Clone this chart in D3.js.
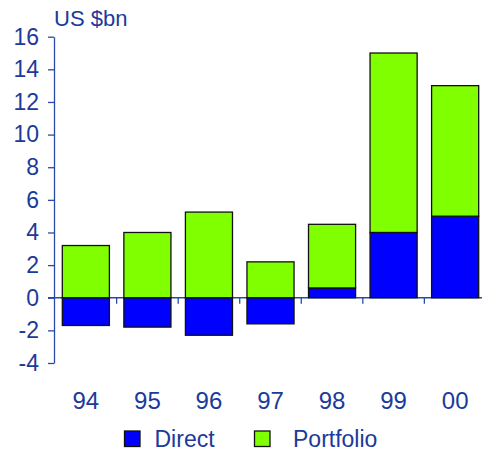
<!DOCTYPE html>
<html>
<head>
<meta charset="utf-8">
<script src="https://cdn.jsdelivr.net/npm/d3@7"></script>
<style>
	body { margin: 0; background: #fff; }
	svg { display: block; font-family: "Liberation Sans", Arial, sans-serif; }
</style>
</head>
<body>
<div id="chart"></div>
<script>
	'use strict';

	// data
	var years = ["94", "95", "96", "97", "98", "99", "00"];
	var direct = [-1.7, -1.8, -2.3, -1.6, 0.6, 4.0, 5.0];
	var portfolio = [3.2, 4.0, 5.25, 2.2, 3.9, 11.0, 8.0];
	var yTicks = [-4, -2, 0, 2, 4, 6, 8, 10, 12, 14, 16];
	var seriesNames = ["Direct", "Portfolio"];

	var options = {
		width: 482,
		height: 450,
		textColor: "#1b3a9a",
		axisColor: "#2a4aa6",
		colors: ["#0000ff", "#80ff00"]
	};

	var rows = years.map(function (y, i) {
		return { year: y, Direct: direct[i], Portfolio: portfolio[i] };
	});

	var svg = d3.select("#chart").append("svg")
		.attr("width", options.width)
		.attr("height", options.height);

	var x = d3.scaleBand()
		.domain(years)
		.range([54, 487])
		.paddingInner(0.235)
		.paddingOuter(0.135);

	var y = d3.scaleLinear()
		.domain([-4, 16])
		.range([363, 36.7]);

	var color = d3.scaleOrdinal()
		.domain(seriesNames)
		.range(options.colors);

	// zero line with small separators between categories
	svg.append("line")
		.attr("x1", 48).attr("x2", options.width)
		.attr("y1", y(0)).attr("y2", y(0))
		.attr("stroke", options.axisColor)
		.attr("stroke-width", 1.3);

	svg.selectAll("line.sep")
		.data(years.slice(1))
		.enter()
		.append("line")
		.attr("class", "sep")
		.attr("x1", function (d) { return x(d) - x.step() * x.paddingInner() / 2; })
		.attr("x2", function (d) { return x(d) - x.step() * x.paddingInner() / 2; })
		.attr("y1", y(0))
		.attr("y2", y(0) + 6)
		.attr("stroke", options.axisColor)
		.attr("stroke-width", 1.3);

	// stacked bars
	var stacked = d3.stack()
		.keys(seriesNames)
		.offset(d3.stackOffsetDiverging)(rows);

	svg.selectAll("g.series")
		.data(stacked)
		.enter()
		.append("g")
		.attr("class", "series")
		.attr("fill", function (d) { return color(d.key); })
		.selectAll("rect")
		.data(function (d) { return d; })
		.enter()
		.append("rect")
		.attr("x", function (d) { return x(d.data.year); })
		.attr("width", x.bandwidth())
		.attr("y", function (d) { return y(Math.max(d[0], d[1])); })
		.attr("height", function (d) { return Math.abs(y(d[0]) - y(d[1])); })
		.attr("stroke", "#111")
		.attr("stroke-width", 1.3);

	// left axis (plain hyphen for negatives, like the original)
	var leftAxis = svg.append("g")
		.attr("transform", "translate(54,0)")
		.call(d3.axisLeft(y)
			.tickValues(yTicks)
			.tickFormat(function (d) { return String(d); })
			.tickSize(6)
			.tickSizeOuter(0)
			.tickPadding(9));

	leftAxis.select(".domain").attr("stroke", options.axisColor).attr("stroke-width", 1.3);
	leftAxis.selectAll(".tick line").attr("stroke", options.axisColor).attr("stroke-width", 1.3);
	leftAxis.selectAll(".tick text")
		.attr("fill", options.textColor)
		.attr("font-size", "23px")
		.attr("font-family", "Liberation Sans, Arial, sans-serif");

	// unit label
	svg.append("text")
		.attr("x", 54)
		.attr("y", 26)
		.attr("fill", options.textColor)
		.attr("font-size", "22px")
		.text("US $bn");

	// category labels
	svg.selectAll("text.year")
		.data(years)
		.enter()
		.append("text")
		.attr("class", "year")
		.attr("x", function (d) { return x(d) + x.bandwidth() / 2; })
		.attr("y", 408.5)
		.attr("text-anchor", "middle")
		.attr("fill", options.textColor)
		.attr("font-size", "24px")
		.text(function (d) { return d; });

	// legend
	var legendX = [124.5, 254.5];
	var legend = svg.selectAll("g.legend")
		.data(seriesNames)
		.enter()
		.append("g")
		.attr("class", "legend")
		.attr("transform", function (d, i) { return "translate(" + legendX[i] + ",431)"; });

	legend.append("rect")
		.attr("width", 15.5)
		.attr("height", 15.5)
		.attr("fill", function (d) { return color(d); })
		.attr("stroke", "#111")
		.attr("stroke-width", 1.3);

	legend.append("text")
		.attr("x", function (d, i) { return i === 0 ? 30 : 38.5; })
		.attr("y", 15.5)
		.attr("fill", options.textColor)
		.attr("font-size", "23px")
		.text(function (d) { return d; });
</script>
</body>
</html>
